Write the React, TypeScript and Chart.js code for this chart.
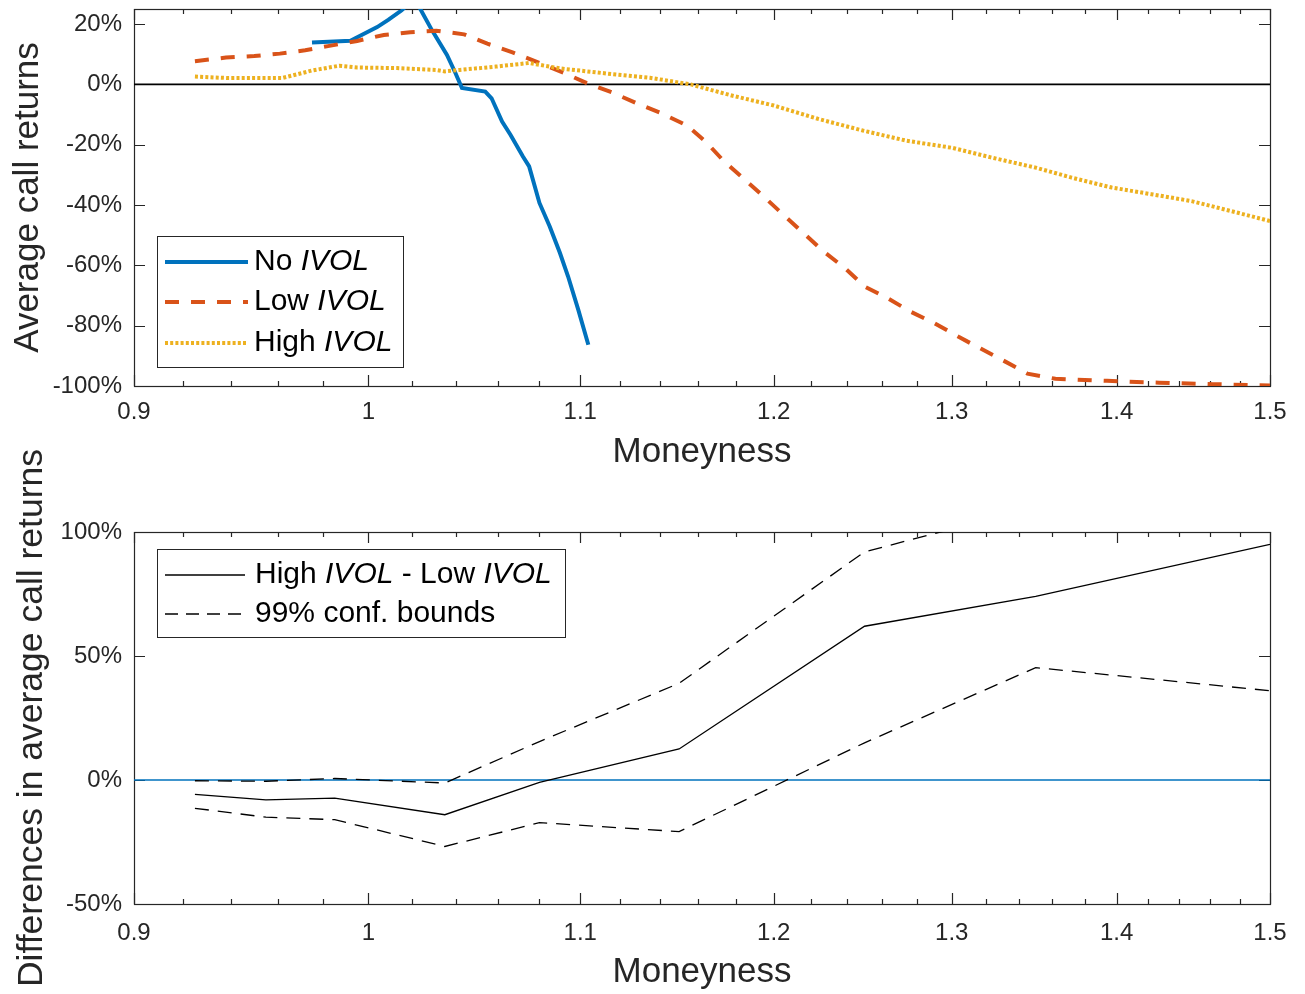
import { useEffect, useRef } from "react";
import { Chart, registerables } from "chart.js";

Chart.register(...registerables);

const FONT_FAMILY = "'Liberation Sans', Arial, Helvetica, sans-serif";
const AXIS_COLOR = "#262626";
const BLUE = "#0072BD";
const ORANGE = "#D95319";
const YELLOW = "#EDB120";

// ---- Top panel: average call returns (%) by moneyness ----
const noIvolMoneyness = [0.975, 0.992, 0.997, 1.004, 1.009, 1.015, 1.021, 1.029, 1.036, 1.04, 1.043, 1.054, 1.057, 1.062, 1.066, 1.072, 1.075, 1.08, 1.085, 1.09, 1.094, 1.099, 1.104];
const noIvolReturns = [13.9, 14.5, 16.4, 19.0, 21.4, 24.5, 28.5, 18, 9.8, 3.7, -1.2, -2.4, -4.6, -12.3, -16.7, -23.9, -27.2, -39.3, -47.1, -55.9, -63.7, -74.7, -86.3];

const lowIvolMoneyness = [0.925, 0.938, 0.95, 0.961, 0.972, 0.982, 0.995, 1.007, 1.019, 1.031, 1.044, 1.055, 1.067, 1.079, 1.092, 1.103, 1.116, 1.128, 1.141, 1.154, 1.164, 1.173, 1.184, 1.195, 1.206, 1.216, 1.227, 1.239, 1.25, 1.263, 1.276, 1.29, 1.304, 1.317, 1.332, 1.345, 1.362, 1.394, 1.427, 1.462, 1.5];
const lowIvolReturns = [7.7, 8.9, 9.4, 10.2, 11.3, 12.7, 14.4, 16.4, 17.3, 17.8, 16.6, 13.5, 10.6, 7.4, 3.8, 0.5, -2.7, -6.2, -9.6, -13.6, -19.1, -25.2, -31.3, -37.4, -43.7, -49.2, -55.3, -60.9, -67, -70.9, -75.3, -79.2, -83.7, -87.6, -92, -95.9, -97.6, -98.3, -98.9, -99.4, -99.8];

const highIvolMoneyness = [0.925, 0.939, 0.962, 0.975, 0.987, 0.995, 1.013, 1.031, 1.035, 1.042, 1.059, 1.075, 1.09, 1.116, 1.135, 1.156, 1.177, 1.2, 1.224, 1.249, 1.274, 1.3, 1.323, 1.35, 1.372, 1.397, 1.422, 1.448, 1.474, 1.5];
const highIvolReturns = [2.6, 2.1, 2.1, 4.6, 6.2, 5.6, 5.4, 4.8, 4.3, 4.8, 5.9, 7.1, 5.3, 3.4, 2.2, 0, -3.6, -7, -11.4, -15.3, -18.7, -21, -24.2, -27.6, -30.9, -34.2, -36.4, -38.7, -42, -45.3];

// ---- Bottom panel: High IVOL - Low IVOL difference (%) with 99% bounds ----
const diffMoneyness = [0.925, 0.955, 0.985, 1.035, 1.08, 1.15, 1.25, 1.35, 1.5];
const diffHighMinusLow = [-5.8, -8, -7.3, -14, -1, 12.5, 62, 74, 95];
const diffUpperBound = [-0.3, -0.5, 0.6, -1.2, 15.5, 39, 92, 110, 150];
const diffLowerBound = [-11.4, -15, -16, -26.8, -17.2, -20.8, 15, 45.3, 36];

// ---- Axis ticks ----
const moneynessTicks = [0.9, 1.0, 1.1, 1.2, 1.3, 1.4, 1.5];
const returnTicks = [-100, -80, -60, -40, -20, 0, 20];
const diffTicks = [-50, 0, 50, 100];
const zeroLine = [0, 0];
const moneynessRange = [0.9, 1.5];

type Span = [string, boolean];
type LegendRow = { parts: Span[]; color: string; width: number; dash: number[] };
type LegendSpec = {
  box: [number, number, number, number];
  sample: [number, number];
  textX: number;
  rowY: number[];
  rows: LegendRow[];
};

const toPoints = (xs: number[], ys: number[]) => xs.map((x, i) => ({ x, y: ys[i] }));

const formatMoneyness = (v: number) => String(Number(Number(v).toFixed(1)));

function drawLegend(ctx: CanvasRenderingContext2D, area: any, spec: LegendSpec) {
  const x0 = Math.round(area.left + spec.box[0]) + 0.5;
  const y0 = Math.round(area.top + spec.box[1]) + 0.5;
  const x1 = Math.round(area.left + spec.box[2]) + 0.5;
  const y1 = Math.round(area.top + spec.box[3]) + 0.5;
  ctx.save();
  ctx.fillStyle = "#ffffff";
  ctx.fillRect(x0, y0, x1 - x0, y1 - y0);
  ctx.strokeStyle = AXIS_COLOR;
  ctx.lineWidth = 1;
  ctx.setLineDash([]);
  ctx.strokeRect(x0, y0, x1 - x0, y1 - y0);
  spec.rows.forEach((row, i) => {
    const y = area.top + spec.rowY[i];
    ctx.beginPath();
    ctx.strokeStyle = row.color;
    ctx.lineWidth = row.width;
    ctx.lineCap = "butt";
    ctx.setLineDash(row.dash);
    ctx.moveTo(area.left + spec.sample[0], y);
    ctx.lineTo(area.left + spec.sample[1], y);
    ctx.stroke();
    ctx.setLineDash([]);
    let tx = area.left + spec.textX;
    ctx.fillStyle = "#000000";
    ctx.textBaseline = "middle";
    ctx.textAlign = "left";
    row.parts.forEach(([text, italic]) => {
      ctx.font = `${italic ? "italic " : ""}30px ${FONT_FAMILY}`;
      ctx.fillText(text, tx, y);
      tx += ctx.measureText(text).width;
    });
  });
  ctx.restore();
}

// Box and inward tick marks on all four sides (under the data), legend on top
function makeAxesPlugin(yTicks: number[], legend: LegendSpec) {
  return {
    id: "boxedAxes",
    beforeDatasetsDraw(chart: any) {
      const { ctx, chartArea } = chart;
      const { left, right, top, bottom } = chartArea;
      const xs = chart.scales.x;
      const ys = chart.scales.y;
      ctx.save();
      ctx.strokeStyle = AXIS_COLOR;
      ctx.lineWidth = 1.2;
      ctx.setLineDash([]);
      ctx.beginPath();
      const major = 11;
      const minor = 5;
      for (let i = 45; i <= 75; i++) {
        const len = i % 5 === 0 ? major : minor;
        const px = Math.round(xs.getPixelForValue(i / 50)) + 0.5;
        ctx.moveTo(px, bottom);
        ctx.lineTo(px, bottom - len);
        ctx.moveTo(px, top);
        ctx.lineTo(px, top + len);
      }
      yTicks.forEach((v) => {
        const py = Math.round(ys.getPixelForValue(v)) + 0.5;
        ctx.moveTo(left, py);
        ctx.lineTo(left + major, py);
        ctx.moveTo(right, py);
        ctx.lineTo(right - major, py);
      });
      ctx.stroke();
      ctx.strokeRect(Math.round(left) + 0.5, Math.round(top) + 0.5, Math.round(right - left), Math.round(bottom - top));
      ctx.restore();
    },
    afterDraw(chart: any) {
      drawLegend(chart.ctx, chart.chartArea, legend);
    },
  };
}

function xScale(height: number, labelPad: number, titlePad: number) {
  return {
    type: "logarithmic" as const,
    min: moneynessRange[0],
    max: moneynessRange[1],
    afterBuildTicks: (s: any) => {
      s.ticks = moneynessTicks.map((value) => ({ value }));
    },
    afterFit: (s: any) => {
      s.height = height;
      s.paddingLeft = 0;
      s.paddingRight = 0;
    },
    grid: { display: false, drawTicks: false },
    border: { display: false },
    ticks: {
      color: AXIS_COLOR,
      font: { family: FONT_FAMILY, size: 24 },
      padding: labelPad,
      maxRotation: 0,
      autoSkip: false,
      callback: (v: any) => formatMoneyness(v),
    },
    title: {
      display: true,
      text: "Moneyness",
      color: AXIS_COLOR,
      font: { family: FONT_FAMILY, size: 35 },
      padding: { top: 0, bottom: titlePad },
    },
  };
}

function yScale(min: number, max: number, ticks: number[], title: string, titleSize: number, titlePad: number) {
  return {
    type: "linear" as const,
    min,
    max,
    afterBuildTicks: (s: any) => {
      s.ticks = ticks.map((value) => ({ value }));
    },
    afterFit: (s: any) => {
      s.width = 134;
      s.paddingTop = 0;
      s.paddingBottom = 0;
    },
    grid: { display: false, drawTicks: false },
    border: { display: false },
    ticks: {
      color: AXIS_COLOR,
      font: { family: FONT_FAMILY, size: 24 },
      padding: 12,
      autoSkip: false,
      callback: (v: any) => `${v}%`,
    },
    title: {
      display: true,
      text: title,
      color: AXIS_COLOR,
      font: { family: FONT_FAMILY, size: titleSize },
      padding: { top: titlePad, bottom: 0 },
    },
  };
}

const lineDefaults = { pointRadius: 0, fill: false, tension: 0, borderCapStyle: "butt" as const, borderJoinStyle: "miter" as const };

function topConfig(): any {
  const legend: LegendSpec = {
    box: [23, 227, 269, 358],
    sample: [31, 114],
    textX: 120,
    rowY: [253, 293, 334],
    rows: [
      { parts: [["No ", false], ["IVOL", true]], color: BLUE, width: 4, dash: [] },
      { parts: [["Low ", false], ["IVOL", true]], color: ORANGE, width: 4, dash: [14, 12] },
      { parts: [["High ", false], ["IVOL", true]], color: YELLOW, width: 4, dash: [3, 2.2] },
    ],
  };
  return {
    type: "line",
    data: {
      datasets: [
        { ...lineDefaults, label: "zero", data: toPoints(moneynessRange, zeroLine), borderColor: "#000000", borderWidth: 1.6, order: 4 },
        { ...lineDefaults, label: "No IVOL", data: toPoints(noIvolMoneyness, noIvolReturns), borderColor: BLUE, borderWidth: 4, order: 3 },
        { ...lineDefaults, label: "Low IVOL", data: toPoints(lowIvolMoneyness, lowIvolReturns), borderColor: ORANGE, borderWidth: 4, borderDash: [14, 12], order: 2 },
        { ...lineDefaults, label: "High IVOL", data: toPoints(highIvolMoneyness, highIvolReturns), borderColor: YELLOW, borderWidth: 4, borderDash: [3, 2.2], order: 1 },
      ],
    },
    options: {
      responsive: false,
      animation: false,
      devicePixelRatio: 1,
      layout: { padding: { left: 0, top: 9, right: 35, bottom: 0 } },
      plugins: { legend: { display: false }, tooltip: { enabled: false }, title: { display: false } },
      scales: {
        x: xScale(104, 12, 17),
        y: yScale(-100, 25, returnTicks, "Average call returns", 35, 7),
      },
    },
    plugins: [makeAxesPlugin(returnTicks, legend)],
  };
}

function bottomConfig(): any {
  const legend: LegendSpec = {
    box: [23, 17, 431, 105],
    sample: [31, 111],
    textX: 121,
    rowY: [43, 82],
    rows: [
      { parts: [["High ", false], ["IVOL", true], [" - Low ", false], ["IVOL", true]], color: "#000000", width: 1.3, dash: [] },
      { parts: [["99% conf. bounds", false]], color: "#000000", width: 1.3, dash: [13, 8] },
    ],
  };
  return {
    type: "line",
    data: {
      datasets: [
        { ...lineDefaults, label: "zero", data: toPoints(moneynessRange, zeroLine), borderColor: BLUE, borderWidth: 1.5, order: 4 },
        { ...lineDefaults, label: "High IVOL - Low IVOL", data: toPoints(diffMoneyness, diffHighMinusLow), borderColor: "#000000", borderWidth: 1.3, order: 3 },
        { ...lineDefaults, label: "Upper bound", data: toPoints(diffMoneyness, diffUpperBound), borderColor: "#000000", borderWidth: 1.3, borderDash: [14, 9], order: 2 },
        { ...lineDefaults, label: "Lower bound", data: toPoints(diffMoneyness, diffLowerBound), borderColor: "#000000", borderWidth: 1.3, borderDash: [14, 9], order: 1 },
      ],
    },
    options: {
      responsive: false,
      animation: false,
      devicePixelRatio: 1,
      layout: { padding: { left: 0, top: 112, right: 35, bottom: 0 } },
      plugins: { legend: { display: false }, tooltip: { enabled: false }, title: { display: false } },
      scales: {
        x: xScale(90, 15, 1),
        y: yScale(-50, 100, diffTicks, "Differences in average call returns", 35.5, 11),
      },
    },
    plugins: [makeAxesPlugin(diffTicks, legend)],
  };
}

export default function App() {
  const topRef = useRef<HTMLCanvasElement>(null);
  const bottomRef = useRef<HTMLCanvasElement>(null);

  useEffect(() => {
    const top = new Chart(topRef.current!, topConfig());
    const bottom = new Chart(bottomRef.current!, bottomConfig());
    return () => {
      top.destroy();
      bottom.destroy();
    };
  }, []);

  return (
    <div style={{ position: "absolute", left: 0, top: 0, width: 1305, height: 994, background: "#ffffff", overflow: "hidden" }}>
      <canvas ref={topRef} width={1305} height={490} style={{ position: "absolute", left: 0, top: 0, display: "block" }} />
      <canvas ref={bottomRef} width={1305} height={574} style={{ position: "absolute", left: 0, top: 420, display: "block" }} />
    </div>
  );
}
